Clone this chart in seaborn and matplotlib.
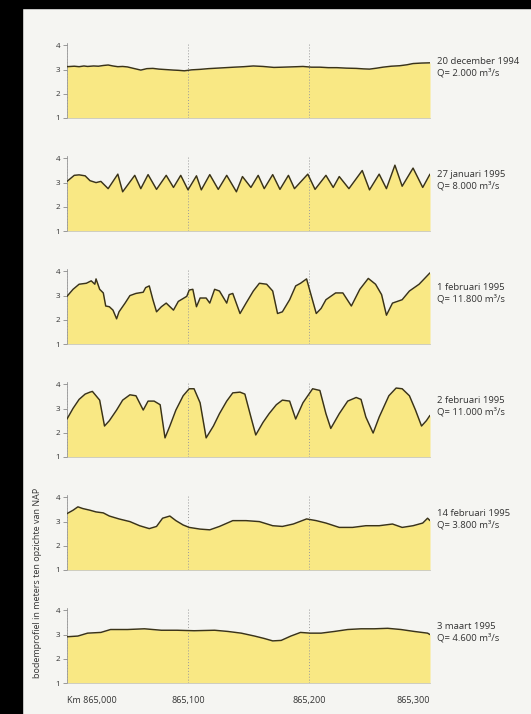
"""
Bodemprofiel van de Waal (Km 865,000 - 865,300) bij zes afvoeren.
Run standalone: python plot.py
"""

import matplotlib
matplotlib.use("Agg")  # headless-safe backend
import matplotlib.pyplot as plt
from matplotlib.patches import Rectangle
import pandas as pd
import seaborn as sns

# positions along the river, metres from Km 865,000
x_dec20 = [0, 6, 10, 14, 17, 22, 26, 30, 34, 38, 42, 46, 50, 55, 61, 66, 71, 76, 82, 88, 92, 97,
           103, 110, 117, 124, 131, 138, 146, 154, 162, 171, 178, 184, 190, 195, 202, 209, 216,
           223, 231, 239, 245, 250, 256, 261, 268, 275, 281, 286, 293, 300]
y_dec20 = [3.12, 3.14, 3.12, 3.15, 3.13, 3.15, 3.14, 3.17, 3.19, 3.15, 3.12, 3.13, 3.11, 3.05,
           2.98, 3.04, 3.05, 3.02, 3.0, 2.98, 2.97, 2.95, 2.99, 3.01, 3.04, 3.06, 3.08, 3.1, 3.12,
           3.15, 3.13, 3.09, 3.1, 3.11, 3.12, 3.13, 3.1, 3.1, 3.08, 3.08, 3.06, 3.05, 3.03, 3.02,
           3.06, 3.1, 3.14, 3.16, 3.2, 3.25, 3.27, 3.28]

x_jan27 = [0, 6, 10, 15, 19, 24, 28, 34, 42, 46, 56, 61, 67, 74, 82, 88, 94, 100, 107, 111, 118,
           125, 132, 140, 145, 152, 158, 163, 170, 176, 183, 188, 199, 205, 214, 220, 225, 233,
           244, 250, 258, 264, 271, 277, 286, 294, 300]
y_jan27 = [3.05, 3.3, 3.32, 3.28, 3.08, 3.0, 3.05, 2.75, 3.35, 2.62, 3.3, 2.75, 3.33, 2.72, 3.3,
           2.8, 3.3, 2.7, 3.28, 2.7, 3.33, 2.72, 3.3, 2.62, 3.25, 2.8, 3.3, 2.75, 3.33, 2.72, 3.3,
           2.75, 3.35, 2.72, 3.3, 2.8, 3.25, 2.75, 3.5, 2.7, 3.35, 2.75, 3.72, 2.85, 3.6, 2.8, 3.35]

x_feb01 = [0, 5, 10, 16, 20, 23, 24, 27, 30, 32, 35, 38, 41, 43, 48, 52, 57, 63, 65, 68, 71, 74,
           78, 82, 88, 92, 99, 101, 104, 107, 110, 115, 118, 122, 126, 132, 134, 137, 143, 148,
           154, 159, 165, 170, 174, 178, 184, 189, 193, 198, 200, 206, 210, 214, 222, 228, 235,
           242, 249, 255, 260, 264, 269, 277, 283, 291, 300]
y_feb01 = [2.97, 3.26, 3.47, 3.51, 3.61, 3.47, 3.69, 3.26, 3.11, 2.57, 2.54, 2.4, 2.04, 2.33,
           2.69, 3.0, 3.09, 3.14, 3.33, 3.4, 2.83, 2.33, 2.54, 2.69, 2.4, 2.76, 2.97, 3.23, 3.26,
           2.54, 2.9, 2.9, 2.69, 3.26, 3.19, 2.69, 3.04, 3.09, 2.26, 2.69, 3.19, 3.51, 3.47, 3.19,
           2.26, 2.33, 2.83, 3.4, 3.51, 3.69, 3.33, 2.26, 2.47, 2.83, 3.11, 3.11, 2.57, 3.26, 3.71,
           3.47, 3.04, 2.19, 2.69, 2.83, 3.19, 3.47, 3.94]

x_feb02 = [0, 5, 10, 15, 19, 21, 24, 27, 31, 35, 41, 46, 52, 57, 63, 67, 72, 77, 81, 85, 90, 96,
           101, 105, 110, 115, 121, 126, 132, 137, 143, 147, 152, 156, 162, 167, 173, 178, 184,
           189, 195, 203, 209, 214, 218, 225, 232, 239, 243, 247, 253, 258, 266, 272, 277, 283,
           288, 293, 297, 300]
y_feb02 = [2.57, 3.01, 3.38, 3.6, 3.68, 3.71, 3.53, 3.35, 2.28, 2.5, 2.94, 3.35, 3.57, 3.53,
           2.94, 3.31, 3.31, 3.16, 1.79, 2.28, 2.94, 3.53, 3.82, 3.82, 3.24, 1.79, 2.28, 2.79,
           3.31, 3.65, 3.68, 3.6, 2.65, 1.91, 2.43, 2.79, 3.16, 3.35, 3.31, 2.57, 3.24, 3.82, 3.75,
           2.79, 2.18, 2.79, 3.31, 3.46, 3.38, 2.65, 1.99, 2.65, 3.53, 3.85, 3.82, 3.53, 2.94,
           2.28, 2.5, 2.72]

x_feb14 = [0, 5, 9, 13, 19, 24, 30, 35, 43, 52, 60, 68, 74, 79, 85, 90, 96, 101, 110, 118, 126,
           137, 148, 159, 170, 178, 187, 198, 206, 214, 225, 236, 247, 258, 269, 277, 286, 294,
           298, 300]
y_feb14 = [3.33, 3.47, 3.61, 3.54, 3.47, 3.4, 3.36, 3.23, 3.11, 3.0, 2.83, 2.71, 2.8, 3.14,
           3.23, 3.04, 2.86, 2.76, 2.69, 2.66, 2.8, 3.04, 3.04, 3.0, 2.83, 2.8, 2.9, 3.11, 3.04,
           2.94, 2.76, 2.76, 2.83, 2.83, 2.9, 2.76, 2.83, 2.94, 3.14, 3.04]

x_mar03 = [0, 9, 17, 28, 36, 50, 64, 78, 91, 105, 122, 133, 144, 155, 163, 170, 177, 185, 193,
           201, 210, 221, 232, 243, 254, 265, 276, 287, 298, 300]
y_mar03 = [2.91, 2.94, 3.06, 3.09, 3.21, 3.21, 3.24, 3.18, 3.18, 3.16, 3.18, 3.13, 3.06, 2.94,
           2.84, 2.74, 2.76, 2.94, 3.09, 3.06, 3.06, 3.13, 3.21, 3.24, 3.24, 3.26, 3.21, 3.13,
           3.06, 3.0]

dates = ["20 december 1994", "27 januari 1995", "1 februari 1995",
         "2 februari 1995", "14 februari 1995", "3 maart 1995"]
discharges = ["2.000", "8.000", "11.800", "11.000", "3.800", "4.600"]
series = [(x_dec20, y_dec20), (x_jan27, y_jan27), (x_feb01, y_feb01),
          (x_feb02, y_feb02), (x_feb14, y_feb14), (x_mar03, y_mar03)]

km_ticks = [865.0, 865.1, 865.2, 865.3]
km_labels = ["Km 865,000", "865,100", "865,200", "865,300"]
y_ticks = [1, 2, 3, 4]

PAGE = "#f5f5f2"
FILL = "#f9e884"
LINE = "#3a3318"
TEXT = "#333333"

sns.set_theme(style="white")
plt.rcParams["font.family"] = ["Open Sans", "DejaVu Sans"]

W, H = 531, 714
fig = plt.figure(figsize=(W / 100, H / 100), dpi=100, facecolor=PAGE)

# scan edges
fig.add_artist(Rectangle((0, 0), 22 / W, 1, transform=fig.transFigure, color="black", zorder=10))
fig.add_artist(Rectangle((0, 1 - 8 / H), 1, 8 / H, transform=fig.transFigure, color="black", zorder=10))

left, width = 67 / W, 363 / W
unit = 24.2          # pixels per metre of height
pitch = 113          # pixels between panels
ymin, ymax = 1, 4.1

for i, ((xs, ys), date, q) in enumerate(zip(series, dates, discharges)):
    base = 118 + pitch * i
    ax = fig.add_axes([left, 1 - base / H, width, (ymax - ymin) * unit / H])
    ax.set_facecolor("none")
    df = pd.DataFrame({"km": [865 + v / 1000 for v in xs], "hoogte": ys})

    ax.fill_between(df["km"], ymin, df["hoogte"], color=FILL, lw=0, zorder=1)
    sns.lineplot(data=df, x="km", y="hoogte", ax=ax, color=LINE, lw=1.05, zorder=3)

    ax.set_xlim(865.0, 865.3)
    ax.set_ylim(ymin, ymax)
    ax.set_yticks(y_ticks)
    ax.set_xticks(km_ticks)
    ax.set_xlabel("")
    ax.set_ylabel("")
    ax.tick_params(axis="y", left=True, length=3, width=0.6, color="#8a8a8a",
                   labelsize=5.8, labelcolor=TEXT, pad=2)
    ax.tick_params(axis="x", bottom=False, length=0)
    ax.xaxis.grid(True, linestyle=(0, (1, 2)), color="#9a9a9a", lw=0.7, zorder=4)
    ax.set_axisbelow(False)
    for side in ["top", "right"]:
        ax.spines[side].set_visible(False)
    ax.spines["left"].set_color("#9a9a9a")
    ax.spines["left"].set_linewidth(0.6)
    ax.spines["bottom"].set_color("#c8c8c0")
    ax.spines["bottom"].set_linewidth(0.6)

    if i == len(series) - 1:
        ax.set_xticklabels(km_labels, fontsize=6.5, color=TEXT)
        ax.tick_params(axis="x", pad=9)
        labels = ax.get_xticklabels()
        labels[0].set_ha("left")
        labels[-1].set_ha("right")
    else:
        ax.set_xticklabels([])

    ax.annotate(f"{date}\nQ= {q} m\u00b3/s", xy=(1.02, 3.1), xycoords=("axes fraction", "data"),
                ha="left", va="center", fontsize=6.8, color=TEXT, linespacing=1.25,
                annotation_clip=False)

fig.text(38 / W, 1 - 583 / H, "bodemprofiel in meters ten opzichte van NAP", rotation=90,
         ha="center", va="center", fontsize=6.5, color=TEXT)

fig.savefig("out.png", dpi=100, facecolor=PAGE)
